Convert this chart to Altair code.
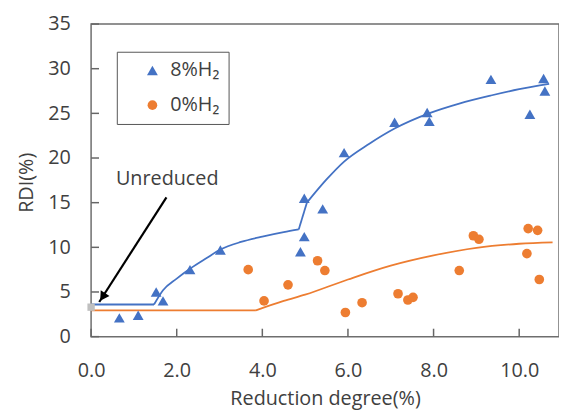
import altair as alt
import pandas as pd

# ---- data ----
blue_x = [0.66, 1.10, 1.52, 1.68, 2.31, 3.02, 4.89, 4.98, 4.98, 5.41, 5.91, 7.09, 7.85, 7.90, 9.34, 10.25, 10.57, 10.60]
blue_y = [2.1, 2.4, 5.0, 4.0, 7.5, 9.7, 9.5, 11.2, 15.5, 14.3, 20.6, 24.0, 25.1, 24.1, 28.8, 24.9, 28.9, 27.5]

orange_x = [3.67, 4.04, 4.60, 5.29, 5.46, 5.94, 6.33, 7.17, 7.40, 7.52, 8.60, 8.93, 9.06, 10.21, 10.43, 10.18, 10.47]
orange_y = [7.5, 4.0, 5.8, 8.5, 7.4, 2.7, 3.8, 4.8, 4.1, 4.4, 7.4, 11.3, 10.9, 12.1, 11.9, 9.3, 6.4]

# fitted curves, split into pieces at their kinks
blue_fit_x = [0, 1.47, 1.47, 1.68, 2.0, 2.31, 2.7, 3.02, 3.5, 4.0, 4.5, 4.85, 4.85, 5.04, 5.04, 5.5, 5.91, 6.5, 7.09, 7.89, 8.6, 9.34, 10.0, 10.7]
blue_fit_y = [3.6, 3.6, 3.6, 5.2, 6.5, 7.6, 8.8, 9.75, 10.6, 11.2, 11.7, 12.0, 12.0, 15.0, 15.0, 17.6, 19.6, 21.6, 23.3, 25.0, 26.1, 27.0, 27.7, 28.3]
blue_fit_seg = [1, 1, 2, 2, 2, 2, 2, 2, 2, 2, 2, 2, 3, 3, 4, 4, 4, 4, 4, 4, 4, 4, 4, 4]

orange_fit_x = [0, 3.85, 3.85, 4.5, 5.0, 6.0, 7.0, 8.0, 9.0, 10.0, 10.78]
orange_fit_y = [2.95, 2.95, 2.95, 4.0, 4.7, 6.4, 7.95, 9.1, 9.95, 10.4, 10.55]
orange_fit_seg = [1, 1, 2, 2, 2, 2, 2, 2, 2, 2, 2]

series_names = ["8%H\u2082", "0%H\u2082"]
series_colors = ["#4472C4", "#ED7D31"]
series_shapes = ["triangle-up", "circle"]
series_sizes = [120, 95]

unreduced_x = [0.0]
unreduced_y = [3.3]

label_text = ["Unreduced"]
label_x = [0.58]
label_y = [16.94]

arrow_x = [1.76]
arrow_y = [15.6]
arrow_x2 = [0.19]
arrow_y2 = [3.88]
head_x = [0.27]
head_y = [4.45]

x_ticks = [0, 2, 4, 6, 8, 10]
y_ticks = [0, 5, 10, 15, 20, 25, 30, 35]

FONT = "Open Sans"
TXT = "#404040"
W, H = 473, 316

# ---- tables ----
pts = pd.concat([
    pd.DataFrame({"x": blue_x, "y": blue_y, "s": series_names[0]}),
    pd.DataFrame({"x": orange_x, "y": orange_y, "s": series_names[1]}),
])
blue_fit = pd.DataFrame({"x": blue_fit_x, "y": blue_fit_y, "seg": blue_fit_seg})
orange_fit = pd.DataFrame({"x": orange_fit_x, "y": orange_fit_y, "seg": orange_fit_seg})

xscale = alt.Scale(domain=[0, 10.93], nice=False, zero=False)
yscale = alt.Scale(domain=[0, 35], nice=False)

xaxis = alt.Axis(values=x_ticks, format=".1f", title="Reduction degree(%)", grid=False, ticks=False,
                 domain=False, labelFlush=False, labelPadding=24, labelFontSize=20, labelFont=FONT,
                 labelColor=TXT, titleFontSize=20, titleFont=FONT, titleColor=TXT, titleFontWeight="normal",
                 titleBaseline="alphabetic", titleY=69)
yaxis = alt.Axis(values=y_ticks, title="RDI(%)", grid=False, ticks=False, domain=False,
                 labelPadding=21, labelFontSize=20, labelFont=FONT, labelColor=TXT,
                 titleFontSize=20, titleFont=FONT, titleColor=TXT, titleFontWeight="normal",
                 titleAngle=270, titleAlign="center", titleBaseline="middle", titleX=-65, titleY=160)


def X(f):
    return alt.X(f, scale=xscale, axis=xaxis, title="Reduction degree(%)")


def Y(f):
    return alt.Y(f, scale=yscale, axis=yaxis, title="RDI(%)")


legend = alt.Legend(orient="none", legendX=26, legendY=28, title=None, strokeColor="#555555",
                    fillColor="white", padding=9, symbolOffset=17, rowPadding=15,
                    labelFontSize=20, labelFont=FONT, labelColor=TXT, labelOffset=8,
                    labelExpr="datum.label + '\u00a0\u00a0\u00a0'", symbolStrokeWidth=0)

blue_line = alt.Chart(blue_fit).mark_line(strokeWidth=1.8, interpolate="monotone", color=series_colors[0]).encode(
    x=X("x:Q"), y=Y("y:Q"), detail="seg:N")
orange_line = alt.Chart(orange_fit).mark_line(strokeWidth=1.8, interpolate="monotone", color=series_colors[1]).encode(
    x=X("x:Q"), y=Y("y:Q"), detail="seg:N")

points = alt.Chart(pts).mark_point(filled=True, opacity=1).encode(
    x=X("x:Q"), y=Y("y:Q"),
    color=alt.Color("s:N", scale=alt.Scale(domain=series_names, range=series_colors), legend=legend),
    shape=alt.Shape("s:N", scale=alt.Scale(domain=series_names, range=series_shapes), legend=legend),
    size=alt.Size("s:N", scale=alt.Scale(domain=series_names, range=series_sizes), legend=None),
)

unreduced = alt.Chart(pd.DataFrame({"x": unreduced_x, "y": unreduced_y})).mark_square(
    color="#BFBFBF", size=55, opacity=1).encode(x=X("x:Q"), y=Y("y:Q"))

arrow = alt.Chart(pd.DataFrame({"x": arrow_x, "y": arrow_y, "x2": arrow_x2, "y2": arrow_y2})).mark_rule(
    color="black", strokeWidth=2.2).encode(x=X("x:Q"), y=Y("y:Q"), x2="x2:Q", y2="y2:Q")

head = alt.Chart(pd.DataFrame({"x": head_x, "y": head_y})).mark_point(
    shape="triangle-up", filled=True, color="black", size=110, angle=213, opacity=1).encode(
    x=X("x:Q"), y=Y("y:Q"))

label = alt.Chart(pd.DataFrame({"x": label_x, "y": label_y, "t": label_text})).mark_text(
    align="left", baseline="alphabetic", fontSize=20, font=FONT, color=TXT).encode(
    x=X("x:Q"), y=Y("y:Q"), text="t:N")

xt = alt.Chart(pd.DataFrame({"x": x_ticks})).mark_rule(color="#666666", strokeWidth=1.5).encode(
    x=X("x:Q"), y=alt.value(H), y2=alt.value(H - 8))
yt = alt.Chart(pd.DataFrame({"y": y_ticks})).mark_rule(color="#666666", strokeWidth=1.5).encode(
    y=Y("y:Q"), x=alt.value(0), x2=alt.value(8))

chart = alt.layer(xt, yt, blue_line, orange_line, unreduced, points, arrow, head, label).properties(
    width=W, height=H,
    autosize=alt.AutoSizeParams(type="none"),
    padding={"left": 84, "top": 14, "right": 0, "bottom": 78},
).configure_view(stroke="#6E6E6E", strokeWidth=1.5)

chart.save("out.html", embed_options={"renderer": "svg", "actions": False})
